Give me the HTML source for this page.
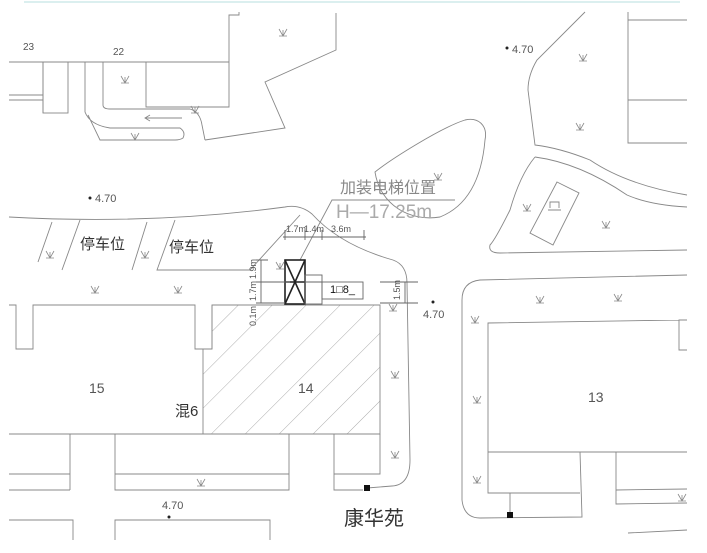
<!DOCTYPE html>
<html><head><meta charset="utf-8"><style>
html,body{margin:0;padding:0;background:#fff;}
svg{display:block;}
text{font-family:"Liberation Sans","Noto Sans CJK SC",sans-serif;fill:#555;}
</style></head><body>
<svg width="707" height="553" viewBox="0 0 707 553" xmlns="http://www.w3.org/2000/svg">
<defs>
<g id="gr" stroke="#888" stroke-width="0.8" fill="none">
<path d="M-4,-4 L0,3 L4,-4 M0,-3 L0,3 M-4,3 L4,3"/>
</g>
<pattern id="hatch" width="24" height="24" patternUnits="userSpaceOnUse" patternTransform="rotate(45)">
<line x1="0" y1="0" x2="0" y2="24" stroke="#999" stroke-width="0.8"/>
</pattern>
</defs>
<line x1="24" y1="2" x2="680" y2="2" stroke="#cfeaea" stroke-width="1.5"/>
<g stroke="#888" stroke-width="0.9" fill="none">
<path d="M229,62 L229,15 L239,15 L239,12"/>
<path d="M336,13 L336,50 L265,82 L285,128 L205,140"/>
<path d="M9,62 L229,62"/>
<path d="M9,62 L43,62 L43,113 M9,95 L43,95 M9,100 L43,100"/>
<rect x="43" y="62" width="25" height="51"/>
<path d="M103,62 L103,105 Q103,109 110,109 L190,109 Q200,112 202,125 L205,140"/>
<path d="M85,62 L85,112 Q90,125 110,128 L180,128 Q186,132 183,138 Q180,140 175,140 L100,140 L88,115"/>
<path d="M146,62 L146,107 L229,107 L229,62"/>
<path d="M182,118 L145,118 M150,115 L145,118 L150,121"/>
<path d="M9,217 Q150,225 285,207 Q300,204 312,214 Q340,245 393,260 Q407,265 407,283 L410,460 Q410,485 392,486 L367,488"/>
<path d="M52,222 L38,262 M80,220 L62,270 M147,222 L132,270 M175,220 L157,270 L250,270 L300,215"/>
<path d="M375,172 C390,160 440,128 465,120 C478,117 488,125 485,140 C482,175 470,205 440,217 C410,222 380,205 375,172 Z"/>
<path d="M300,260 L332,200 L455,200"/>
<path d="M585,12 L537,60 Q528,75 528,90 L535,145 Q560,148 590,160 Q627,185 687,195"/>
<path d="M535,157 Q580,163 627,195 Q650,205 687,207"/>
<path d="M535,157 Q520,175 510,210 Q495,240 490,245 Q488,253 500,253 L687,250"/>
<path d="M557,182 L579,193 L553,245 L530,233 Z"/>
<path d="M550,208 L550,202 L559,202 L559,208 M548,210 L561,210"/>
<path d="M628,12 L628,143 L687,143 M628,20 L687,20 M628,100 L687,100"/>
<path d="M687,275 L480,280 Q462,282 462,300 L462,500 Q464,518 480,518 L582,517 L580,452"/>
<path d="M687,320 L679,320 L679,350 L687,350 M679,320 L488,323 L488,493 L580,493 M488,452 L687,452"/>
<path d="M510,493 L510,516 M616,452 L616,504 L687,503 M616,490 L687,489 M628,533 L687,530"/>
<path d="M9,305 L16,305 L16,349 L33,349 L33,305 L195,305 L195,349 L203,349 M212,349 L212,305"/>
<path d="M9,434 L380,434"/>
<path d="M70,434 L70,490 M9,474 L70,474 M9,490 L70,490"/>
<path d="M115,434 L115,490 L289,490 L289,434 M115,474 L289,474"/>
<path d="M334,434 L334,490 L363,490 M334,474 L380,474 L380,434"/>
<path d="M9,520 L73,520 L73,540 M115,540 L115,520 L270,520 L270,540"/>
</g>
<polygon points="212,305 380,305 380,434 203,434 203,349 212,349" fill="url(#hatch)" stroke="#888" stroke-width="0.9"/>
<g stroke="#222" stroke-width="1.6" fill="none">
<rect x="285" y="260" width="20" height="44"/>
<path d="M285,282 L305,282 M285,260 L305,304 M305,260 L285,304"/>
</g>
<g stroke="#666" stroke-width="0.9" fill="none">
<rect x="305" y="275" width="17" height="29"/>
<path d="M305,282 L322,282"/>
<rect x="322" y="282" width="41" height="17"/>
<path d="M285,230 L285,240 M305,230 L305,240 M322,230 L322,240 M364,230 L364,240 M283,237 L366,237"/>
<path d="M261,260 L261,303 M256,260 L268,260 M256,282 L290,282 M256,303 L285,303"/>
<path d="M405,282 L405,303 M380,282 L418,282 M380,303 L418,303"/>
</g>
<g font-size="9">
<text x="286" y="232">1.7m</text><text x="304" y="232">1.4m</text><text x="331" y="232">3.6m</text>
<text transform="translate(256,279) rotate(-90)">1.9m</text>
<text transform="translate(256,301) rotate(-90)">1.7m</text>
<text transform="translate(256,326) rotate(-90)">0.1m</text>
<text transform="translate(400,300) rotate(-90)">1.5m</text>
</g>
<text x="330" y="293" font-size="11" style="fill:#111">1□8_</text>
<text x="340" y="193" font-size="16" style="fill:#888">加装电梯位置</text>
<text x="336" y="218" font-size="19" style="fill:#aaa">H—17.25m</text>
<text x="23" y="50" font-size="10">23</text>
<text x="113" y="55" font-size="10">22</text>
<text x="80" y="249" font-size="15" style="fill:#333">停车位</text>
<text x="169" y="252" font-size="15" style="fill:#333">停车位</text>
<text x="89" y="393" font-size="14">15</text>
<text x="298" y="393" font-size="14">14</text>
<text x="175" y="416" font-size="15" style="fill:#333">混6</text>
<text x="588" y="402" font-size="14">13</text>
<text x="344" y="525" font-size="20" style="fill:#333">康华苑</text>
<g font-size="11">
<circle cx="90" cy="198" r="1.5" fill="#222"/><text x="95" y="202">4.70</text>
<circle cx="507" cy="48" r="1.5" fill="#222"/><text x="512" y="53">4.70</text>
<circle cx="433" cy="302" r="1.5" fill="#222"/><text x="423" y="318">4.70</text>
<circle cx="169" cy="517" r="1.5" fill="#222"/><text x="162" y="509">4.70</text>
</g>
<rect x="364" y="485" width="6" height="6" fill="#111"/>
<rect x="507" y="512" width="6" height="6" fill="#111"/>
<use href="#gr" x="283" y="33"/><use href="#gr" x="125" y="80"/><use href="#gr" x="195" y="110"/>
<use href="#gr" x="135" y="137"/><use href="#gr" x="583" y="58"/><use href="#gr" x="580" y="127"/>
<use href="#gr" x="606" y="225"/><use href="#gr" x="527" y="208"/><use href="#gr" x="438" y="177"/>
<use href="#gr" x="50" y="255"/><use href="#gr" x="145" y="255"/>
<use href="#gr" x="95" y="290"/><use href="#gr" x="178" y="290"/><use href="#gr" x="280" y="266"/>
<use href="#gr" x="393" y="308"/><use href="#gr" x="395" y="375"/><use href="#gr" x="395" y="455"/>
<use href="#gr" x="201" y="483"/><use href="#gr" x="540" y="300"/><use href="#gr" x="618" y="298"/>
<use href="#gr" x="475" y="320"/><use href="#gr" x="477" y="400"/><use href="#gr" x="477" y="480"/>
<use href="#gr" x="682" y="498"/>
</svg>
</body></html>
